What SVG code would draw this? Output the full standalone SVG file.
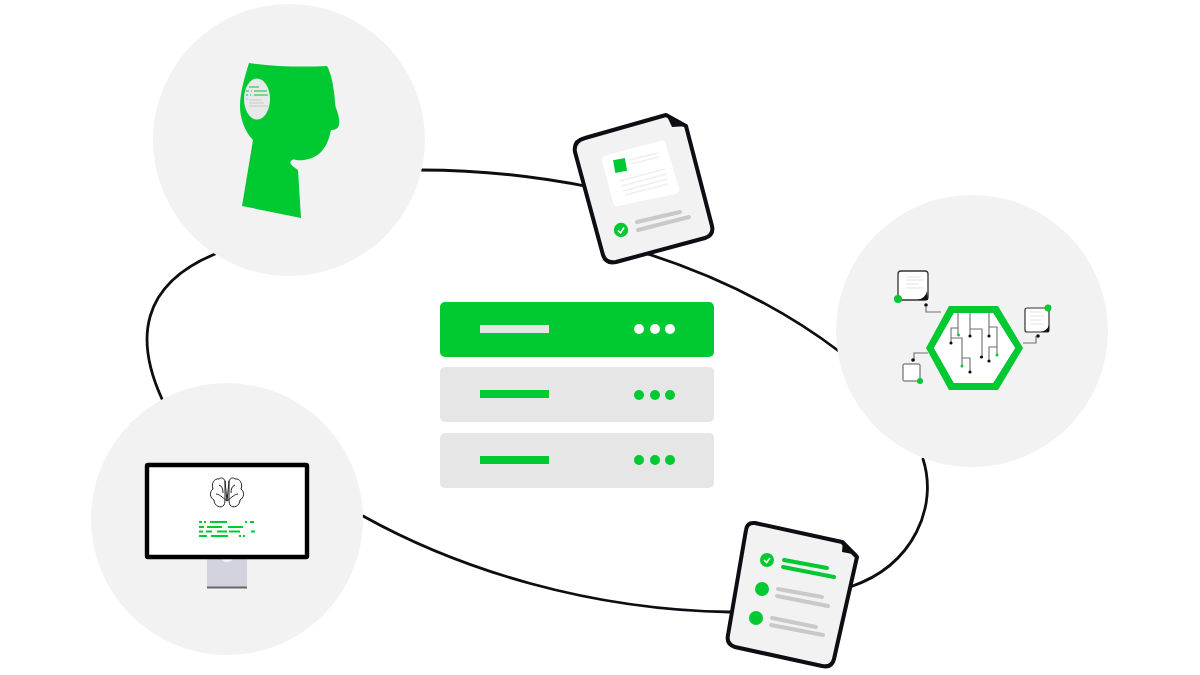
<svg xmlns="http://www.w3.org/2000/svg" width="1200" height="675" viewBox="0 0 1200 675">
<style>
.g{fill:#00c932}.c{fill:#f2f2f2}.r{fill:#e6e6e6}.w{fill:#fff}.k{fill:#0d0d14}
.ln{fill:none;stroke:#0d0d14;stroke-width:2.800;stroke-linecap:round}
.doc{fill:#f2f2f2;stroke:#0d0d14;stroke-width:4;stroke-linejoin:round}
.gl{stroke:#c9c9c9;stroke-width:4;stroke-linecap:round;fill:none}
.gl2{stroke:#00c932;stroke-width:4;stroke-linecap:round;fill:none}
.t{fill:none;stroke:#6e6e6e;stroke-width:1.100}
.t2{fill:none;stroke:#e4e4e4;stroke-width:1.200}
.b{fill:none;stroke:#222;stroke-width:1}
.dash{stroke:#00c932;stroke-width:1.800;fill:none}
</style>
<g id="connectors">
<path class="ln" d="M421 170C480 170 535 176 590 187"/>
<path class="ln" d="M645 253C720 277 785 310 840 352"/>
<path class="ln" d="M923 459C938 505 915 565 850 587"/>
<path class="ln" d="M730 612C590 610 460 570 363 516"/>
<path class="ln" d="M162 399C135 340 140 285 215 254"/>
</g>
<g id="node-head">
<circle class="c" cx="289" cy="140" r="136"/>
<path class="g" d="M249 63C275 67 305 67 327 66C331 73 333 84 334 92C335 100 335 105 336 108C338 113 340 120 339 125C338 129 335 130 331 130C329 140 326 147 320 153C313 159 304 161 296 160C293 159 292 160 291 161C289 163 291 165 298 170L301 218L242 206L253 140C245 132 240 118 240 107C240 92 245 76 249 63Z"/>
<ellipse cx="257" cy="99" rx="13" ry="20.500" fill="#e9e9e9"/>
<path class="gl2" style="stroke-width:1.100;stroke-linecap:butt" d="M249 87H259M246 91H249M251 91H252M254 91H267M246 95H248M250 95H251M254 95H268"/>
<path d="M246 99H248M249 100H262M249 103H264M249 106H268" style="stroke:#c9c9c9;stroke-width:1;fill:none"/>
</g>
<g id="node-doc-top">
<path class="doc" d="M585 138L666 115L686 126L712 226Q714 235 705 238L616 262Q606 264 603 255L575 152Q573 141 585 138Z"/>
<path class="k" d="M666 114L688 126L672 127Z"/>
<path class="w" d="M607 155L660 141Q665 140 666 145L679 188Q680 193 675 194L618 206Q614 207 613 202L602 161Q601 157 607 155Z"/>
<rect class="g" x="614" y="159" width="12" height="13" transform="rotate(-10 620 165)"/>
<path d="M629 160L658 153M631 164L659 157M620 181L665 169M622 186L666 174M623 191L667 179M625 195L668 184" style="stroke:#efefef;stroke-width:1.500;fill:none"/>
<circle class="g" cx="621" cy="230" r="7.200"/>
<path d="M618 230.500L620.500 233L624 227.500" style="stroke:#fff;stroke-width:1.600;fill:none"/>
<path class="gl" d="M637 222L680 212M638 230L689 217"/>
</g>
<g id="node-chip">
<circle class="c" cx="972" cy="331" r="136"/>
<path class="g" d="M949 306H998L1023 348L998 390H949L926 348ZM954 313L934 348L954 383H993L1015 348L993 313Z" fill-rule="evenodd"/>
<path d="M954 313H993L1015 348L993 383H954L934 348Z" class="w"/>
<rect x="898" y="271" width="30" height="29" rx="3" fill="#fff" stroke="#333" stroke-width="1.300"/>
<path d="M917 300Q926 298 927 291L928 300Z" fill="#111"/>
<path d="M906 277H921M906 280H924M906 284H919M907 288H923" class="t2"/>
<circle class="g" cx="898" cy="299" r="4"/>
<circle class="k" cx="926" cy="305" r="1.800"/>
<path class="t" d="M926 306V312H941M1023 343H1036V336M928 353H914V361M958 312V335M958 328H951V343M970 312V336M970 329H982V357M989 312V336M989 327H997V354M997 347H989V361M951 338H962V366M962 358H970V372"/>
<circle class="k" cx="951" cy="343" r="1.600"/>
<circle class="g" cx="958.500" cy="335" r="1.500"/>
<circle class="k" cx="970" cy="336" r="1.600"/>
<circle class="k" cx="989" cy="336" r="1.600"/>
<circle class="k" cx="981.500" cy="357" r="1.600"/>
<circle class="g" cx="997" cy="355" r="1.500"/>
<circle class="k" cx="989" cy="361" r="1.600"/>
<circle class="g" cx="962" cy="366" r="1.500"/>
<circle class="k" cx="970" cy="372" r="1.600"/>
<rect x="1025" y="308" width="24" height="24" rx="2" fill="#fff" stroke="#333" stroke-width="1.200"/>
<path d="M1040 332Q1047 331 1049 325V332Z" fill="#111"/>
<path d="M1030 312H1042M1030 316H1045M1030 320H1042M1030 324H1044" class="t2"/>
<circle class="g" cx="1048" cy="308" r="3.400"/>
<circle class="k" cx="1038" cy="336" r="1.800"/>
<rect x="903" y="364" width="17" height="17" rx="1" fill="#fff" stroke="#555" stroke-width="1"/>
<circle class="g" cx="920" cy="381" r="3"/>
<circle class="k" cx="913" cy="360" r="1.800"/>
</g>
<g id="node-doc-bottom">
<path class="doc" d="M755 523L842 542L857 557L834 659Q832 668 822 666L735 647Q726 644 728 635L746 530Q747 522 755 523Z"/>
<path class="k" d="M843 540L858 555L842 552Z"/>
<circle class="g" cx="767" cy="560" r="7"/>
<path d="M764 560L766.500 562.500L770 558" style="stroke:#fff;stroke-width:1.500;fill:none"/>
<path class="gl2" d="M784 560L827 568M783 567L834 577"/>
<circle class="g" cx="762" cy="589" r="7"/>
<path class="gl" d="M778 589L822 597M777 596L828 606"/>
<circle class="g" cx="756" cy="618" r="7"/>
<path class="gl" d="M772 618L816 627M771 625L823 635"/>
</g>
<g id="node-monitor">
<circle class="c" cx="227" cy="519" r="136"/>
<rect x="207" y="557" width="40" height="30" fill="#d3d3de"/>
<ellipse cx="227" cy="559" rx="5" ry="3" fill="#f2f2f2"/>
<rect x="207" y="586.500" width="40" height="2" fill="#666"/>
<rect x="147" y="465" width="160" height="92" fill="#fff" stroke="#000" stroke-width="4.400" rx="1"/>
<path class="b" d="M225 481C224 478 221 477 219 479C214 478 211 484 213 489C209 492 210 498 214 500C214 506 221 509 224 505C225 503 225 501 225 497ZM229 481C230 478 233 477 235 479C240 478 243 484 241 489C245 492 244 498 240 500C240 506 233 509 230 505C229 503 229 501 229 497ZM225 481C226 488 226 494 227 501C228 494 228 488 229 481M219 485C222 486 223 489 223 493M235 485C232 486 231 489 231 493M216 494C219 494 222 497 227 501M238 494C235 494 232 497 227 501"/>
<path class="dash" d="M199 522H202M204 522H206M210 522H227M245 522H247M250 522H254M199 527H204M207 527H222M228 527H243M199 531.500H203M206 531.500H212M217 531.500H227M229 531.500H240M251 531.500H255M199 536H207M211 536H228M239 536H241M243 536H245"/>
</g>
<g id="node-list">
<rect class="g" x="440" y="302" width="274" height="55" rx="5"/>
<rect x="480" y="325" width="69" height="8" fill="#e6e6e6"/>
<circle class="w" cx="639" cy="329" r="5"/><circle class="w" cx="655" cy="329" r="5"/><circle class="w" cx="670" cy="329" r="5"/>
<rect class="r" x="440" y="367" width="274" height="55" rx="5"/>
<rect class="g" x="480" y="390" width="69" height="8"/>
<circle class="g" cx="639" cy="395" r="5"/><circle class="g" cx="655" cy="395" r="5"/><circle class="g" cx="670" cy="395" r="5"/>
<rect class="r" x="440" y="433" width="274" height="55" rx="5"/>
<rect class="g" x="480" y="456" width="69" height="8"/>
<circle class="g" cx="639" cy="460" r="5"/><circle class="g" cx="655" cy="460" r="5"/><circle class="g" cx="670" cy="460" r="5"/>
</g>
</svg>
